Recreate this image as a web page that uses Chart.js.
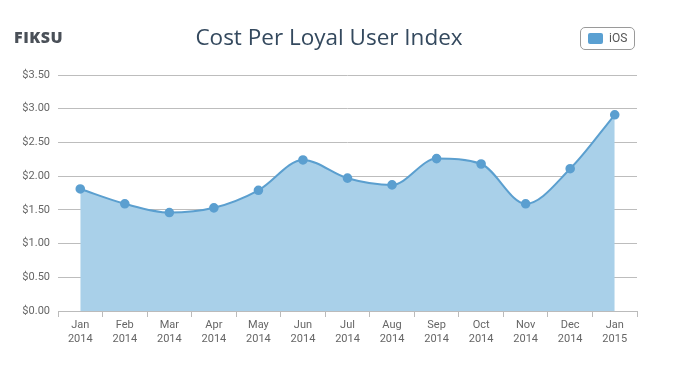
<!DOCTYPE html>
<html><head><meta charset="utf-8">
<script src="https://cdn.jsdelivr.net/npm/chart.js@4/dist/chart.umd.min.js"></script>
<style>
html,body{margin:0;padding:0;background:#fff;}
#wrap{position:relative;width:692px;height:378px;}
#logo{position:absolute;left:14px;top:26px;font-family:"Open Sans",sans-serif;font-weight:800;font-size:16px;color:#4a5058;letter-spacing:0.5px;}
#title{position:absolute;left:0;width:658px;top:21px;text-align:center;font-family:"Open Sans",sans-serif;font-size:22.5px;color:#34495e;font-weight:400;}
#legend{position:absolute;left:580px;top:27px;width:55px;height:23px;border:1px solid #9a9a9a;border-radius:5px;font-family:"Roboto",sans-serif;font-size:12px;color:#555;box-sizing:border-box;}
#legend .sw{position:absolute;left:7px;top:5px;width:15px;height:11px;background:#5aa0d2;border-radius:2px;}
#legend .tx{position:absolute;left:28px;top:3px;}
canvas{position:absolute;left:0;top:0;}
</style></head>
<body><div id="wrap">
<canvas id="c" width="692" height="378"></canvas>
<div id="logo">FIKSU</div>
<div id="title">Cost Per Loyal User Index</div>
<div id="legend"><span class="sw"></span><span class="tx">iOS</span></div>
</div>
<script>
const months = [["Jan","2014"],["Feb","2014"],["Mar","2014"],["Apr","2014"],["May","2014"],["Jun","2014"],["Jul","2014"],["Aug","2014"],["Sep","2014"],["Oct","2014"],["Nov","2014"],["Dec","2014"],["Jan","2015"]];
const iosValues = [1.81, 1.59, 1.46, 1.53, 1.79, 2.24, 1.97, 1.87, 2.26, 2.18, 1.59, 2.11, 2.91];
const yMax = 3.5;
const yStep = 0.5;

new Chart(document.getElementById('c'), {
  type: 'line',
  data: {
    labels: months,
    datasets: [{
      label: 'iOS',
      data: iosValues,
      borderColor: '#5b9fcf',
      backgroundColor: '#a9d0e9',
      fill: 'origin',
      borderWidth: 2,
      pointRadius: 3.8,
      pointBackgroundColor: '#5b9fd0',
      pointBorderColor: '#5b9fd0',
      cubicInterpolationMode: 'monotone'
    }]
  },
  options: {
    responsive: false,
    animation: false,
    layout: { padding: { left: 0, right: 55, top: 75, bottom: 27 } },
    plugins: { legend: { display: false }, tooltip: { enabled: false } },
    scales: {
      x: {
        offset: true,
        grid: { display: true, drawOnChartArea: false, offset: true, tickLength: 6, color: '#bbb' },
        border: { display: true, color: '#bbb' },
        ticks: { color: '#666', font: { family: 'Roboto', size: 11 }, padding: 2, maxRotation: 0, autoSkip: false },
        afterFit(s) { s.height = 40; }
      },
      y: {
        min: 0, max: yMax,
        grid: { color: '#bdbdbd', drawTicks: false },
        border: { display: false },
        ticks: { stepSize: yStep, color: '#666', font: { family: 'Roboto', size: 11 }, padding: 8,
          callback: v => '$' + Number(v).toFixed(2) },
        afterFit(s) { s.width = 58; }
      }
    }
  }
});
</script>
</body></html>
